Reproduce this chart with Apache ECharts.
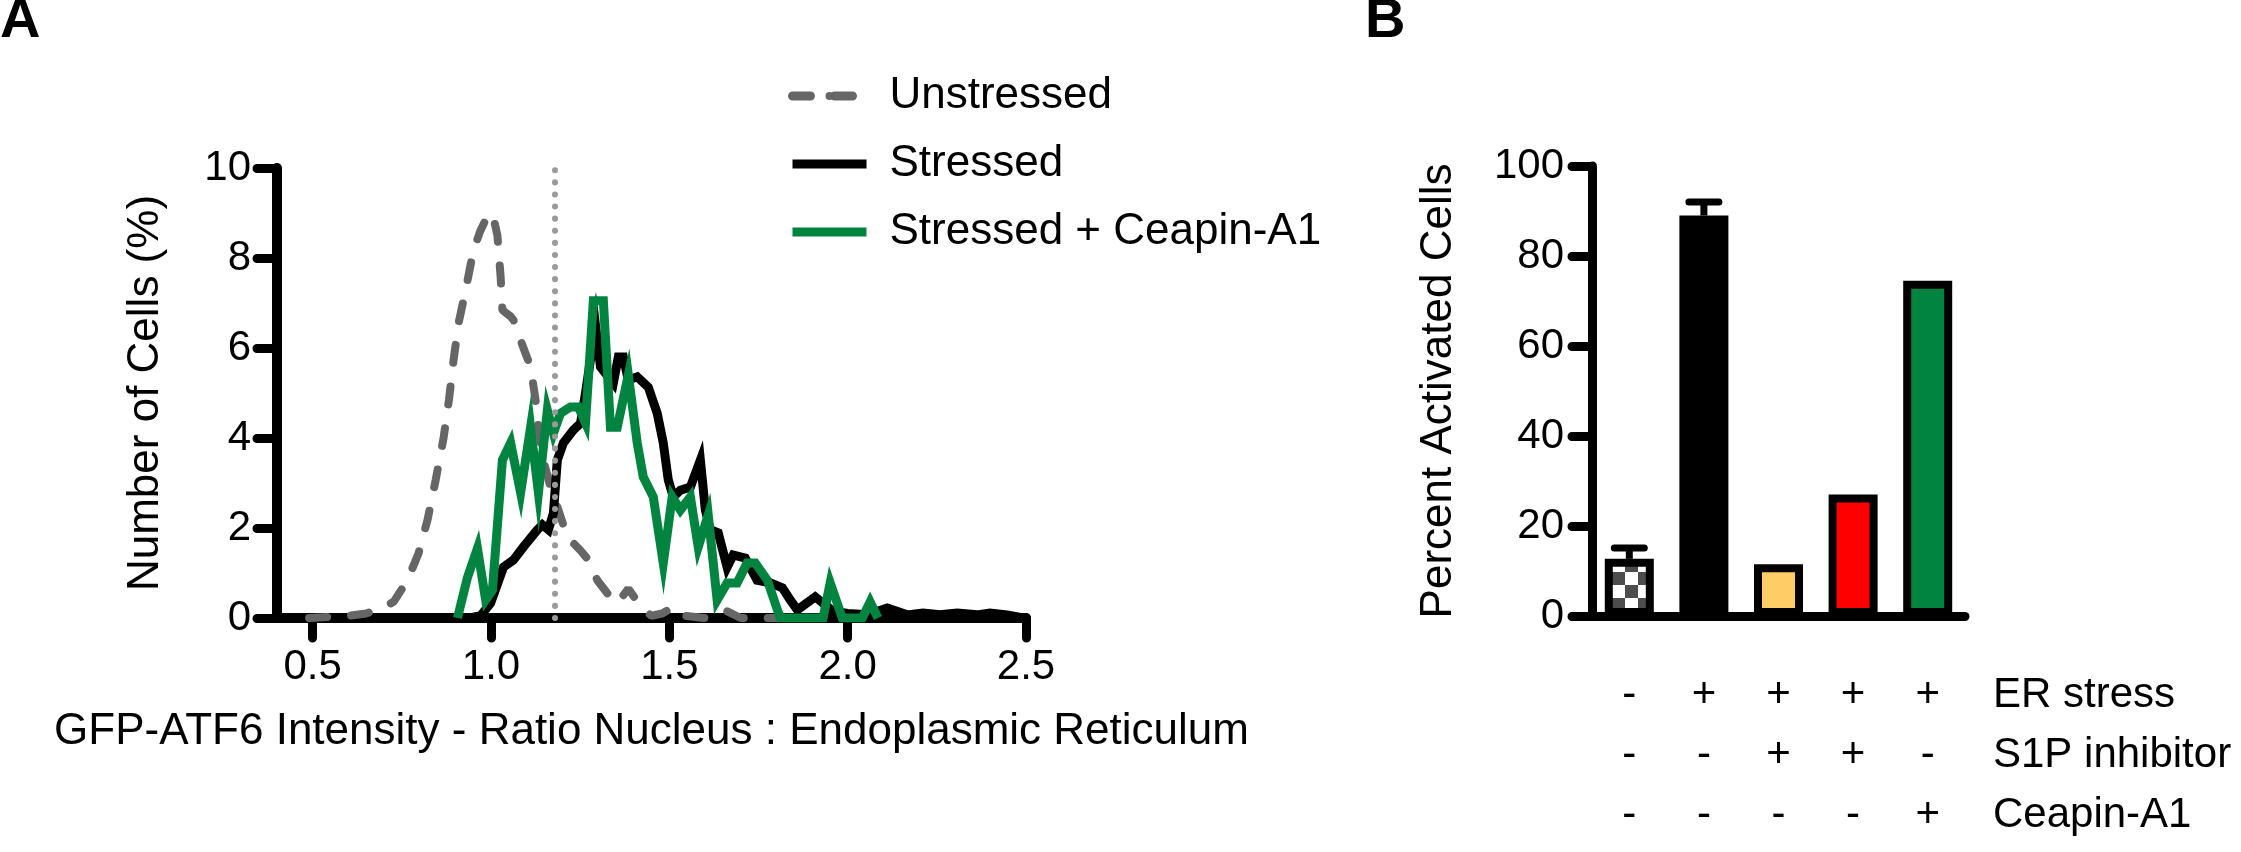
<!DOCTYPE html>
<html><head><meta charset="utf-8">
<script src="https://cdn.jsdelivr.net/npm/echarts@6/dist/echarts.min.js"></script>
<style>html,body{margin:0;padding:0;background:#fff}#c{width:2241px;height:852px}</style>
</head><body><div id="c"></div>
<script>
// ---------- Panel A data: [ratio, % of cells] ----------
const unstressed = [[0.49,0],[0.6,0.05],[0.65,0.1],[0.69,0.2],[0.727,0.36],[0.766,0.84],[0.797,1.44],[0.822,2.18],[0.845,3.07],[0.867,4.0],[0.882,4.84],[0.895,5.73],[0.909,6.55],[0.929,7.29],[0.951,8.18],[0.97,8.6],[0.985,8.85],[1.004,9.0],[1.018,8.5],[1.027,7.58],[1.032,6.84],[1.055,6.7],[1.063,6.62],[1.091,6.0],[1.111,5.58],[1.125,4.84],[1.133,4.24],[1.147,3.5],[1.167,2.9],[1.189,2.4],[1.214,1.8],[1.251,1.5],[1.273,1.29],[1.298,0.84],[1.326,0.55],[1.354,0.33],[1.385,0.65],[1.427,0.18],[1.45,0.05],[1.48,0.1],[1.511,0.24],[1.54,0.05],[1.6,0],[1.662,0.15],[1.7,0],[1.81,0]];
const stressed = [[0.94,0],[0.971,0.05],[0.999,0.33],[1.035,1.13],[1.063,1.29],[1.091,1.58],[1.13,1.96],[1.144,2.07],[1.161,1.96],[1.175,2.33],[1.186,3.51],[1.203,3.89],[1.231,4.18],[1.251,4.33],[1.265,5.0],[1.293,6.5],[1.307,5.58],[1.343,5.22],[1.357,5.8],[1.371,5.8],[1.385,5.29],[1.41,5.36],[1.441,5.13],[1.466,4.55],[1.483,3.89],[1.497,3.07],[1.511,2.69],[1.531,2.84],[1.559,2.91],[1.587,3.51],[1.601,2.4],[1.615,1.96],[1.637,1.89],[1.662,1.13],[1.679,1.4],[1.713,1.33],[1.746,0.84],[1.783,0.78],[1.817,0.67],[1.839,0.4],[1.859,0.18],[1.909,0.47],[1.931,0.33],[1.96,0.15],[2.0,0.1],[2.055,0.07],[2.111,0.22],[2.167,0.07],[2.211,0.11],[2.259,0.07],[2.307,0.11],[2.363,0.07],[2.399,0.11],[2.447,0.07],[2.492,0]];
const ceapin = [[0.906,0],[0.934,0.9],[0.962,1.55],[0.985,0.4],[1.004,0.62],[1.032,3.51],[1.055,3.89],[1.083,2.78],[1.111,4.24],[1.133,2.78],[1.158,4.62],[1.175,4.11],[1.195,4.55],[1.223,4.69],[1.245,4.69],[1.265,4.33],[1.287,7.05],[1.315,7.05],[1.335,4.24],[1.354,4.24],[1.385,5.4],[1.41,3.89],[1.427,3.13],[1.455,2.69],[1.483,1.22],[1.508,2.69],[1.531,2.4],[1.559,2.69],[1.581,1.58],[1.609,2.29],[1.634,0.4],[1.662,0.78],[1.69,0.78],[1.718,1.22],[1.741,1.22],[1.775,0.84],[1.803,0.18],[1.811,0],[1.931,0],[1.951,0.78],[1.985,0],[2.041,0],[2.063,0.36],[2.085,0]];
const thresholdX = 1.175;
const xTicksA = [0.5, 1.0, 1.5, 2.0, 2.5];
const seriesNamesA = ['Unstressed', 'Stressed', 'Stressed + Ceapin-A1'];

// ---------- Panel B data ----------
const conditions = ['c1', 'c2', 'c3', 'c4', 'c5'];
const barValues = [12.7, 89, 11.5, 27, 74.5];
const barErrors = [2.4, 3, 0, 0, 0];
const erStress = ['-', '+', '+', '+', '+'];
const s1pInhibitor = ['-', '-', '+', '+', '-'];
const ceapinA1 = ['-', '-', '-', '-', '+'];
const rowNames = ['ER stress', 'S1P inhibitor', 'Ceapin-A1'];

const FONT = 'Liberation Sans, Arial, Helvetica, sans-serif';
const GREEN = '#00843F';

const pc = document.createElement('canvas'); pc.width = 26; pc.height = 26;
const g = pc.getContext('2d');
g.fillStyle = '#fff'; g.fillRect(0, 0, 26, 26);
g.fillStyle = '#4d4d4d'; g.fillRect(0, 0, 13, 13); g.fillRect(13, 13, 13, 13);
const barColors = [{image: pc, repeat: 'repeat'}, '#000000', '#FFCC66', '#FF0000', GREEN];

const chart = echarts.init(document.getElementById('c'), null, {renderer: 'canvas'});
const axisTxt = {color: '#000', fontFamily: FONT, fontSize: 42};
const nameTxt = {color: '#000', fontFamily: FONT, fontSize: 44};
chart.setOption({
  backgroundColor: '#fff',
  animation: false,
  textStyle: {fontFamily: FONT},
  legend: {
    data: seriesNamesA, orient: 'vertical', left: 783, top: 67,
    itemWidth: 74, itemHeight: 10, itemGap: 20,
    lineStyle: {width: 9},
    textStyle: {fontSize: 44, color: '#000', fontFamily: FONT, lineHeight: 48, padding: [0, 0, 0, 18]}
  },
  grid: [
    {left: 277, top: 168, width: 749, height: 450},
    {left: 1592, top: 166, width: 373, height: 450}
  ],
  xAxis: [
    {gridIndex: 0, type: 'value', min: 0.4, max: 2.5,
     name: 'GFP-ATF6 Intensity - Ratio Nucleus : Endoplasmic Reticulum', nameLocation: 'middle', nameGap: 92,
     nameTextStyle: nameTxt,
     axisLine: {lineStyle: {color: '#000', width: 10, cap: 'round'}},
     axisTick: {customValues: xTicksA, length: 20, lineStyle: {width: 9, color: '#000', cap: 'round'}},
     axisLabel: {customValues: xTicksA, formatter: v => v.toFixed(1), margin: 28, ...axisTxt},
     splitLine: {show: false}},
    {gridIndex: 1, type: 'category', data: conditions,
     axisLine: {lineStyle: {color: '#000', width: 9}},
     axisTick: {alignWithLabel: true, length: 22, lineStyle: {width: 8, color: '#000', cap: 'round'}},
     axisLabel: {margin: 49, lineHeight: 60, ...axisTxt, fontSize: 42,
       formatter: (v, i) => erStress[i] + '\n' + s1pInhibitor[i] + '\n' + ceapinA1[i]}}
  ],
  yAxis: [
    {gridIndex: 0, type: 'value', min: 0, max: 10, interval: 2,
     name: 'Number of Cells (%)', nameLocation: 'middle', nameGap: 109, nameTextStyle: nameTxt,
     axisLine: {show: true, lineStyle: {color: '#000', width: 10, cap: 'round'}},
     axisTick: {show: true, length: 20, lineStyle: {width: 9, color: '#000', cap: 'round'}},
     axisLabel: {margin: 26, ...axisTxt},
     splitLine: {show: false}},
    {gridIndex: 1, type: 'value', min: 0, max: 100, interval: 20,
     name: 'Percent Activated Cells', nameLocation: 'middle', nameGap: 131, nameTextStyle: nameTxt,
     axisLine: {show: true, lineStyle: {color: '#000', width: 9, cap: 'round'}},
     axisTick: {show: true, length: 20, lineStyle: {width: 9, color: '#000', cap: 'round'}},
     axisLabel: {margin: 28, ...axisTxt},
     splitLine: {show: false}}
  ],
  series: [
    {name: seriesNamesA[0], type: 'line', xAxisIndex: 0, yAxisIndex: 0, data: unstressed,
     showSymbol: false, symbol: 'none', z: 2,
     lineStyle: {color: '#666666', width: 8, type: [18, 24], cap: 'round'}, itemStyle: {color: '#666666'}},
    {name: seriesNamesA[1], type: 'line', xAxisIndex: 0, yAxisIndex: 0, data: stressed,
     showSymbol: false, symbol: 'none', z: 3,
     lineStyle: {color: '#000', width: 9, join: 'miter'}, itemStyle: {color: '#000'}},
    {name: seriesNamesA[2], type: 'line', xAxisIndex: 0, yAxisIndex: 0, data: ceapin,
     showSymbol: false, symbol: 'none', z: 4,
     lineStyle: {color: GREEN, width: 9, join: 'miter'}, itemStyle: {color: GREEN}},
    {name: 'threshold', type: 'line', xAxisIndex: 0, yAxisIndex: 0, data: [], z: 5,
     markLine: {silent: true, symbol: 'none', label: {show: false},
       lineStyle: {color: '#9a9a9a', width: 6, type: [0.1, 12], cap: 'round'},
       data: [{xAxis: thresholdX}]}},
    {name: 'bars', type: 'bar', xAxisIndex: 1, yAxisIndex: 1, barWidth: 49, z: 2,
     data: barValues.map((v, i) => ({value: v, itemStyle: {color: barColors[i]}})),
     itemStyle: {borderColor: '#000', borderWidth: 8}},
    {name: 'errors', type: 'custom', xAxisIndex: 1, yAxisIndex: 1, z: 1,
     data: barValues.map((v, i) => [i, v, barErrors[i]]),
     renderItem: (params, api) => {
       const e = api.value(2);
       if (!e) return null;
       const top = api.coord([api.value(0), api.value(1) + e]);
       const base = api.coord([api.value(0), api.value(1)]);
       return {type: 'group', children: [
         {type: 'line', shape: {x1: top[0], y1: base[1], x2: top[0], y2: top[1]}, style: {stroke: '#000', lineWidth: 7}},
         {type: 'line', shape: {x1: top[0] - 15, y1: top[1], x2: top[0] + 15, y2: top[1]}, style: {stroke: '#000', lineWidth: 7, lineCap: 'round'}}
       ]};
     }}
  ],
  graphic: [
    {type: 'text', left: 0, top: -6, style: {text: 'A', font: 'bold 56px ' + FONT, fill: '#000'}},
    {type: 'text', left: 1365, top: -6, style: {text: 'B', font: 'bold 56px ' + FONT, fill: '#000'}},
    ...rowNames.map((t, i) => ({type: 'text', x: 1993, y: 695 + 60 * i,
      style: {text: t, font: '42px ' + FONT, fill: '#000', textVerticalAlign: 'middle'}}))
  ]
});
</script></body></html>
